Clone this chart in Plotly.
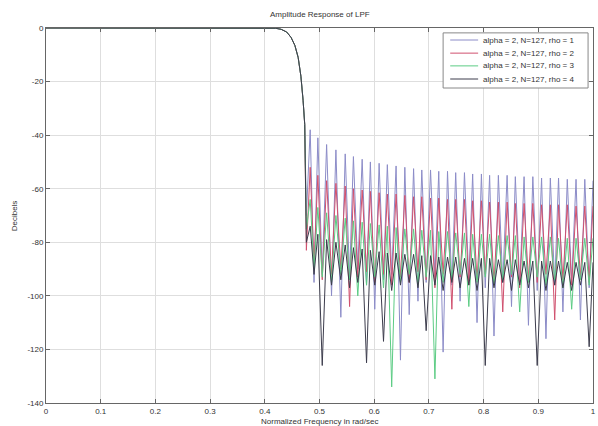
import plotly.graph_objects as go

# ---- data ----
pass_freq = [0.0, 0.05, 0.10, 0.15, 0.20, 0.25, 0.30, 0.35, 0.40, 0.42, 0.43, 0.44,
             0.448, 0.455, 0.461, 0.466, 0.470, 0.473]
pass_db = [0, 0, 0, 0, 0, 0, 0, 0, 0, -0.1, -0.5, -1.5, -3.5, -6.5, -11, -18, -27, -36]

null_freq = [0.476, 0.490, 0.505, 0.522, 0.539, 0.555, 0.570, 0.586, 0.601, 0.617,
             0.632, 0.648, 0.664, 0.680, 0.695, 0.711, 0.726, 0.742, 0.757, 0.773,
             0.788, 0.803, 0.819, 0.835, 0.851, 0.866, 0.882, 0.898, 0.914, 0.930,
             0.945, 0.961, 0.977, 0.993]
peak_freq = [0.483, 0.497, 0.513, 0.530, 0.547, 0.562, 0.578, 0.593, 0.609, 0.624,
             0.640, 0.656, 0.672, 0.687, 0.703, 0.718, 0.734, 0.749, 0.765, 0.780,
             0.796, 0.811, 0.827, 0.843, 0.858, 0.874, 0.890, 0.906, 0.922, 0.937,
             0.953, 0.969, 0.985, 1.000]

s1_peak = [-38, -41, -43.5, -45.5, -47, -48, -49, -50, -50.5, -51,
           -51.5, -52, -52.5, -53, -53, -53.5, -53.5, -54, -54, -54.5,
           -54.5, -55, -55, -55, -55.5, -55.5, -55.5, -56, -56, -56,
           -56.5, -56.5, -56.5, -57]
s1_null = [-70, -95, -92, -100, -108, -93, -90, -96, -105, -94,
           -92, -124, -107, -102, -95, -93, -121, -96, -102, -94,
           -110, -97, -115, -95, -104, -96, -111, -98, -116, -96,
           -106, -95, -109, -97]

s2_peak = [-52, -55, -57, -58, -59, -60, -60.5, -61, -61.5, -62,
           -62, -62.5, -63, -63, -63.5, -63.5, -64, -64, -64, -64.5,
           -64.5, -65, -65, -65, -65.5, -65.5, -65.5, -66, -66, -66,
           -66, -66.5, -66.5, -66.5]
s2_null = [-83, -88, -94, -92, -90, -104, -93, -91, -95, -92,
           -96, -93, -95, -91, -94, -97, -92, -105, -93, -96,
           -94, -92, -95, -106, -93, -97, -94, -95, -92, -109,
           -94, -96, -93, -95]

s3_peak = [-64, -67, -69, -70, -71, -72, -72.5, -73, -73.5, -74,
           -74.5, -75, -75, -75.5, -75.5, -76, -76, -76.5, -76.5, -77,
           -77, -77, -77.5, -77.5, -77.5, -78, -78, -78, -78, -78.5,
           -78.5, -78.5, -78.5, -78.5]
s3_null = [-75, -90, -93, -95, -92, -94, -100, -96, -93, -97,
           -134, -95, -92, -96, -93, -131, -95, -94, -92, -104,
           -95, -93, -96, -94, -92, -106, -95, -93, -96, -94,
           -97, -105, -94, -96]

s4_peak = [-74, -77, -79, -80, -81, -82, -82.5, -83, -83.5, -84,
           -84, -84.5, -84.5, -85, -85, -85.5, -85.5, -85.5, -86, -86,
           -86, -86, -86.5, -86.5, -86.5, -87, -87, -87, -87, -87,
           -87.5, -87.5, -87.5, -87.5]
s4_null = [-80, -92, -126, -96, -94, -97, -95, -125, -96, -117,
           -98, -96, -95, -97, -113, -96, -98, -95, -97, -96,
           -98, -126, -97, -95, -98, -96, -97, -126, -98, -96,
           -97, -98, -96, -119]

series_names = ["alpha = 2, N=127, rho = 1", "alpha = 2, N=127, rho = 2",
                "alpha = 2, N=127, rho = 3", "alpha = 2, N=127, rho = 4"]
series_colors = ["#8c8cc8", "#d0506e", "#5ccc84", "#3c3c4c"]

x_ticks = [0, 0.1, 0.2, 0.3, 0.4, 0.5, 0.6, 0.7, 0.8, 0.9, 1]
x_tick_text = ["0", "0.1", "0.2", "0.3", "0.4", "0.5", "0.6", "0.7", "0.8", "0.9", "1"]
y_ticks = [0, -20, -40, -60, -80, -100, -120, -140]
y_tick_text = ["0", "-20", "-40", "-60", "-80", "-100", "-120", "-140"]


def build(peaks, nulls):
    xs = list(pass_freq)
    ys = list(pass_db)
    for nf, nv, pf, pv in zip(null_freq, nulls, peak_freq, peaks):
        xs += [nf, pf]
        ys += [nv, pv]
    return xs, ys


fig = go.Figure()
for name, col, pk, nl in zip(series_names, series_colors,
                             [s1_peak, s2_peak, s3_peak, s4_peak],
                             [s1_null, s2_null, s3_null, s4_null]):
    xs, ys = build(pk, nl)
    fig.add_trace(go.Scatter(x=xs, y=ys, mode="lines", name=name,
                             line=dict(color=col, width=1)))

txt = "#333333"
font = dict(family="Liberation Sans, Arial, sans-serif", size=8, color=txt)

# compact MATLAB-style legend box (paper coordinates of the plot area)
leg_x0, leg_x1, leg_y0, leg_y1 = 0.726, 0.991, 0.840, 0.987
leg_rows = [0.968, 0.933, 0.899, 0.864]
shapes = [dict(type="rect", xref="paper", yref="paper", x0=leg_x0, x1=leg_x1,
               y0=leg_y0, y1=leg_y1, line=dict(color="#888888", width=1),
               fillcolor="white", layer="above")]
annotations = []
for name, col, ry in zip(series_names, series_colors, leg_rows):
    shapes.append(dict(type="line", xref="paper", yref="paper", x0=0.739, x1=0.790,
                       y0=ry, y1=ry, line=dict(color=col, width=1), layer="above"))
    annotations.append(dict(text=name, xref="paper", yref="paper", x=0.795, y=ry,
                            xanchor="left", yanchor="middle", showarrow=False,
                            font=dict(size=8, color=txt)))

annotations += [
    dict(text="Amplitude Response of LPF", xref="paper", yref="paper", x=0.5, y=1.035,
         xanchor="center", yanchor="middle", showarrow=False, font=dict(size=8, color=txt)),
    dict(text="Normalized Frequency in rad/sec", xref="paper", yref="paper", x=0.5,
         y=-0.048, xanchor="center", yanchor="middle", showarrow=False,
         font=dict(size=8, color=txt)),
    dict(text="Decibels", xref="paper", yref="paper", x=-0.057, y=0.5, textangle=-90,
         xanchor="center", yanchor="middle", showarrow=False, font=dict(size=8, color=txt)),
]

fig.update_layout(
    width=598, height=426,
    margin=dict(l=46, r=5, t=28, b=23, autoexpand=False),
    paper_bgcolor="white", plot_bgcolor="white",
    font=font,
    showlegend=False,
    shapes=shapes,
    annotations=annotations,
    xaxis=dict(range=[0, 1], tickvals=x_ticks, ticktext=x_tick_text, automargin=False,
               showgrid=True, gridcolor="#dedede", gridwidth=1,
               showline=True, linecolor="#666666", linewidth=1, mirror="ticks",
               ticks="inside", ticklen=4, tickcolor="#666666", zeroline=False,
               ticklabeloverflow="allow", tickfont=dict(size=8, color=txt)),
    yaxis=dict(range=[-140, 0], tickvals=y_ticks, ticktext=y_tick_text, automargin=False,
               showgrid=True, gridcolor="#dedede", gridwidth=1,
               showline=True, linecolor="#666666", linewidth=1, mirror="ticks",
               ticks="inside", ticklen=4, tickcolor="#666666", zeroline=False,
               ticklabeloverflow="allow", tickfont=dict(size=8, color=txt)),
)

# remove the page's default body margin / scrollbars so the 598x426 figure fills the window
page_fix = "document.body.style.margin='0';document.body.style.overflow='hidden';"

fig.write_html("out.html", post_script=page_fix, config={"displayModeBar": False})
